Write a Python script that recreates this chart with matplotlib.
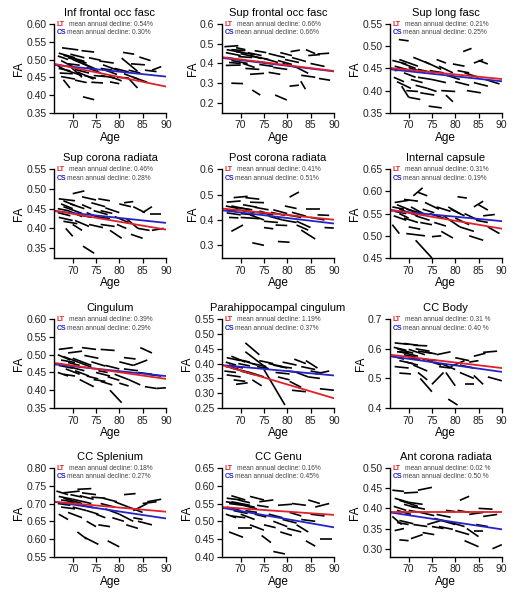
import numpy as np
import matplotlib
matplotlib.use('Agg')
import matplotlib.pyplot as plt

plt.rcParams['font.family'] = ['Liberation Sans', 'DejaVu Sans']

# Panel titles, y ranges and y ticks
titles = ['Inf frontal occ fasc', 'Sup frontal occ fasc', 'Sup long fasc',
          'Sup corona radiata', 'Post corona radiata', 'Internal capsule',
          'Cingulum', 'Parahippocampal cingulum', 'CC Body',
          'CC Splenium', 'CC Genu', 'Ant corona radiata']
ylims = [(0.35, 0.60), (0.15, 0.60), (0.35, 0.55),
         (0.325, 0.55), (0.25, 0.60), (0.45, 0.65),
         (0.35, 0.60), (0.25, 0.55), (0.40, 0.70),
         (0.55, 0.80), (0.40, 0.65), (0.28, 0.50)]
yticks = [[0.35, 0.40, 0.45, 0.50, 0.55, 0.60], [0.2, 0.3, 0.4, 0.5, 0.6], [0.35, 0.40, 0.45, 0.50, 0.55],
          [0.35, 0.40, 0.45, 0.50, 0.55], [0.3, 0.4, 0.5, 0.6], [0.45, 0.50, 0.55, 0.60, 0.65],
          [0.35, 0.40, 0.45, 0.50, 0.55, 0.60], [0.25, 0.30, 0.35, 0.40, 0.45, 0.50, 0.55], [0.4, 0.5, 0.6, 0.7],
          [0.55, 0.60, 0.65, 0.70, 0.75, 0.80], [0.40, 0.45, 0.50, 0.55, 0.60, 0.65], [0.30, 0.35, 0.40, 0.45, 0.50]]
ytick_fmt = ['%.2f', '%.1f', '%.2f', '%.2f', '%.1f', '%.2f', '%.2f', '%.2f', '%.1f', '%.2f', '%.2f', '%.2f']

# mean annual decline texts
lt_decline = ['0.54%', '0.66%', '0.21%', '0.46%', '0.41%', '0.31%',
              '0.39%', '1.19%', '0.31 %', '0.18%', '0.16%', '0.02 %']
cs_decline = ['0.30%', '0.66%', '0.25%', '0.28%', '0.51%', '0.19%',
              '0.29%', '0.37%', '0.40 %', '0.27%', '0.45%', '0.50 %']

# fitted lines: FA at age 66 and at age 90
lt_start = [0.488, 0.432, 0.451, 0.445, 0.445, 0.559, 0.477, 0.395, 0.580, 0.705, 0.540, 0.392]
lt_end = [0.424, 0.362, 0.426, 0.397, 0.401, 0.516, 0.432, 0.283, 0.535, 0.677, 0.518, 0.392]
cs_start = [0.485, 0.428, 0.448, 0.444, 0.438, 0.557, 0.473, 0.395, 0.575, 0.705, 0.538, 0.390]
cs_end = [0.452, 0.360, 0.421, 0.414, 0.386, 0.533, 0.440, 0.360, 0.522, 0.658, 0.483, 0.348]

# individual trajectories: (age0, age1, FA0, FA1)
seg_ifo = [
    (67.7, 71.2, 0.533, 0.527), (71.9, 74.6, 0.525, 0.521), (67.0, 70.5, 0.518, 0.505),
    (68.0, 72.5, 0.512, 0.495), (69.0, 73.0, 0.505, 0.490), (67.5, 70.0, 0.497, 0.480),
    (70.0, 74.0, 0.500, 0.478), (72.0, 75.5, 0.490, 0.470), (67.0, 69.5, 0.475, 0.468),
    (68.5, 72.0, 0.470, 0.455), (67.2, 70.0, 0.462, 0.460), (68.0, 69.4, 0.443, 0.420),
    (69.5, 72.0, 0.480, 0.450), (71.0, 74.5, 0.465, 0.445), (73.0, 76.0, 0.478, 0.462),
    (75.7, 78.8, 0.496, 0.490), (76.5, 80.0, 0.485, 0.468), (77.0, 79.5, 0.470, 0.458),
    (74.0, 76.5, 0.436, 0.434), (76.0, 79.0, 0.455, 0.448), (78.0, 80.5, 0.452, 0.440),
    (72.2, 74.6, 0.395, 0.387), (80.8, 83.2, 0.520, 0.515), (80.5, 83.9, 0.504, 0.467),
    (81.9, 83.9, 0.448, 0.420), (82.5, 85.5, 0.488, 0.485), (84.3, 86.7, 0.507, 0.497),
    (85.5, 88.0, 0.470, 0.466), (87.0, 89.0, 0.470, 0.480), (81.0, 84.0, 0.460, 0.445),
    (83.0, 86.0, 0.450, 0.436), (79.0, 82.0, 0.475, 0.465), (70.5, 73.0, 0.442, 0.435),
    (74.5, 77.0, 0.455, 0.452), (78.0, 80.0, 0.437, 0.432), (69.0, 71.5, 0.488, 0.484),
    (66.8, 68.5, 0.482, 0.470), (73.5, 76.0, 0.505, 0.498), (66.8, 69.0, 0.510, 0.500),
    (69.5, 72.5, 0.515, 0.505), (70.5, 73.5, 0.472, 0.462), (72.5, 75.0, 0.455, 0.447),
    (67.5, 70.5, 0.452, 0.445), (76.0, 78.5, 0.475, 0.470), (79.5, 82.0, 0.450, 0.448),
    (82.0, 84.5, 0.470, 0.462)]
seg_sfo = [
    (66.5, 69.5, 0.485, 0.490), (68.0, 71.0, 0.470, 0.465), (66.8, 70.0, 0.455, 0.440),
    (69.0, 73.0, 0.460, 0.445), (70.0, 74.5, 0.450, 0.425), (67.0, 69.5, 0.430, 0.420),
    (68.0, 71.5, 0.415, 0.400), (66.8, 70.0, 0.390, 0.392), (70.5, 73.0, 0.400, 0.380),
    (72.0, 76.0, 0.440, 0.420), (73.0, 75.5, 0.465, 0.455), (71.0, 74.0, 0.375, 0.370),
    (74.0, 77.0, 0.395, 0.385), (75.0, 78.0, 0.425, 0.405), (76.0, 79.5, 0.450, 0.430),
    (77.0, 80.0, 0.380, 0.370), (68.0, 70.5, 0.300, 0.298), (72.5, 74.2, 0.265, 0.240),
    (77.4, 79.9, 0.240, 0.215), (78.0, 81.0, 0.415, 0.395), (79.0, 82.0, 0.400, 0.380),
    (80.7, 82.7, 0.460, 0.468), (81.0, 84.0, 0.430, 0.410), (82.0, 84.5, 0.380, 0.350),
    (82.9, 83.9, 0.310, 0.270), (80.5, 82.5, 0.285, 0.290), (84.0, 86.0, 0.470, 0.450),
    (84.5, 87.0, 0.440, 0.445), (86.5, 89.0, 0.448, 0.452), (85.0, 88.0, 0.400, 0.385),
    (86.8, 89.2, 0.324, 0.315), (76.0, 78.5, 0.355, 0.345), (72.0, 75.0, 0.345, 0.350),
    (83.0, 86.0, 0.340, 0.330), (69.0, 71.0, 0.480, 0.470), (78.5, 81.0, 0.455, 0.440),
    (67.0, 70.5, 0.470, 0.455), (69.5, 72.5, 0.435, 0.430), (67.5, 70.0, 0.405, 0.400),
    (71.5, 74.5, 0.455, 0.440), (73.5, 76.5, 0.410, 0.400), (79.5, 82.5, 0.420, 0.405)]
seg_slf = [
    (67.9, 70.0, 0.515, 0.512), (66.5, 69.5, 0.468, 0.460), (67.0, 70.5, 0.455, 0.445),
    (68.0, 72.0, 0.470, 0.455), (69.0, 71.5, 0.440, 0.430), (66.8, 69.0, 0.430, 0.420),
    (67.5, 70.5, 0.420, 0.405), (68.5, 70.0, 0.410, 0.385), (70.0, 73.5, 0.452, 0.440),
    (71.0, 74.5, 0.475, 0.460), (72.0, 75.0, 0.430, 0.425), (71.5, 74.0, 0.412, 0.405),
    (73.5, 77.0, 0.465, 0.448), (74.5, 77.5, 0.445, 0.440), (75.0, 78.0, 0.425, 0.418),
    (74.3, 77.1, 0.365, 0.361), (76.5, 79.5, 0.455, 0.440), (77.0, 80.0, 0.400, 0.398),
    (78.0, 79.5, 0.390, 0.375), (78.0, 81.0, 0.435, 0.425), (79.5, 82.0, 0.460, 0.455),
    (80.0, 83.0, 0.420, 0.412), (81.7, 83.5, 0.488, 0.495), (82.0, 85.0, 0.440, 0.430),
    (82.5, 85.5, 0.400, 0.395), (84.0, 86.0, 0.462, 0.470), (85.0, 87.0, 0.468, 0.460),
    (84.0, 87.0, 0.418, 0.410), (86.5, 89.5, 0.425, 0.415), (72.5, 75.5, 0.395, 0.390),
    (69.5, 72.0, 0.400, 0.398), (76.0, 78.0, 0.470, 0.462), (80.5, 83.0, 0.445, 0.440),
    (70.0, 72.5, 0.385, 0.380), (67.0, 69.5, 0.445, 0.448), (68.5, 71.5, 0.462, 0.450),
    (70.5, 73.0, 0.425, 0.418), (72.0, 74.5, 0.448, 0.442), (74.0, 76.0, 0.405, 0.398)]
seg_scr = [
    (67.0, 70.5, 0.475, 0.470), (70.0, 72.5, 0.488, 0.495), (72.0, 75.0, 0.480, 0.472),
    (67.5, 70.0, 0.462, 0.450), (68.0, 72.0, 0.455, 0.438), (66.8, 69.5, 0.440, 0.432),
    (69.0, 72.0, 0.445, 0.430), (67.0, 70.0, 0.428, 0.420), (68.5, 70.0, 0.400, 0.380),
    (70.5, 73.5, 0.420, 0.405), (72.0, 74.0, 0.460, 0.450), (73.0, 76.0, 0.440, 0.425),
    (72.2, 74.6, 0.355, 0.337), (74.0, 77.0, 0.465, 0.455), (75.0, 78.0, 0.430, 0.425),
    (76.0, 79.0, 0.410, 0.405), (77.0, 80.0, 0.452, 0.440), (78.0, 80.5, 0.395, 0.375),
    (79.0, 82.0, 0.430, 0.415), (80.0, 82.5, 0.462, 0.455), (81.0, 83.0, 0.465, 0.468),
    (81.5, 84.0, 0.425, 0.400), (83.0, 85.5, 0.455, 0.440), (84.0, 86.5, 0.400, 0.395),
    (85.0, 87.0, 0.440, 0.455), (86.5, 89.0, 0.437, 0.437), (87.0, 89.5, 0.395, 0.400),
    (82.5, 85.0, 0.385, 0.375), (75.5, 78.0, 0.475, 0.470), (70.0, 72.0, 0.410, 0.395),
    (73.5, 76.5, 0.410, 0.402), (68.0, 70.5, 0.470, 0.458), (76.0, 78.5, 0.445, 0.438),
    (79.5, 81.5, 0.410, 0.400), (66.8, 69.0, 0.450, 0.445), (69.5, 72.5, 0.462, 0.450),
    (68.0, 71.0, 0.418, 0.412), (71.0, 74.0, 0.435, 0.428), (74.5, 77.5, 0.445, 0.435)]
seg_pcr = [
    (67.0, 70.0, 0.470, 0.475), (68.5, 71.5, 0.488, 0.493), (71.0, 74.0, 0.488, 0.482),
    (72.0, 75.0, 0.470, 0.468), (66.8, 69.5, 0.455, 0.445), (68.0, 72.0, 0.455, 0.440),
    (69.0, 73.0, 0.440, 0.430), (67.0, 70.0, 0.428, 0.420), (68.0, 70.5, 0.355, 0.380),
    (70.0, 74.0, 0.410, 0.405), (72.0, 75.0, 0.420, 0.400), (73.0, 76.0, 0.450, 0.440),
    (72.5, 75.0, 0.310, 0.300), (74.0, 77.0, 0.435, 0.420), (75.0, 77.0, 0.370, 0.365),
    (76.0, 79.0, 0.415, 0.400), (77.0, 80.0, 0.440, 0.425), (78.0, 80.5, 0.315, 0.312),
    (79.0, 82.0, 0.400, 0.390), (79.5, 82.0, 0.455, 0.445), (80.5, 82.5, 0.490, 0.510),
    (81.0, 84.0, 0.430, 0.415), (82.0, 85.0, 0.395, 0.370), (83.0, 86.0, 0.360, 0.325),
    (84.0, 87.0, 0.445, 0.445), (85.0, 88.0, 0.410, 0.400), (86.5, 89.0, 0.420, 0.418),
    (88.0, 90.0, 0.370, 0.368), (82.0, 84.5, 0.380, 0.360), (70.5, 73.5, 0.460, 0.450),
    (75.0, 78.0, 0.395, 0.390), (67.5, 69.5, 0.410, 0.408), (80.0, 83.0, 0.420, 0.410),
    (77.5, 80.0, 0.380, 0.378), (66.8, 69.0, 0.440, 0.435), (69.5, 72.5, 0.448, 0.440),
    (70.0, 73.0, 0.425, 0.420), (73.5, 76.5, 0.430, 0.422), (76.5, 79.5, 0.430, 0.418)]
seg_ic = [
    (67.0, 70.0, 0.575, 0.580), (69.0, 72.0, 0.582, 0.578), (71.0, 73.0, 0.590, 0.608),
    (72.0, 74.0, 0.598, 0.590), (66.5, 69.0, 0.565, 0.560), (67.5, 71.0, 0.570, 0.555),
    (68.0, 72.0, 0.560, 0.545), (66.8, 69.5, 0.545, 0.535), (66.5, 68.0, 0.525, 0.505),
    (69.0, 72.0, 0.540, 0.530), (70.5, 73.5, 0.565, 0.548), (69.5, 73.5, 0.505, 0.500),
    (71.5, 75.0, 0.490, 0.450), (73.5, 76.5, 0.575, 0.560), (74.5, 77.5, 0.550, 0.540),
    (75.0, 77.0, 0.498, 0.500), (76.0, 79.0, 0.565, 0.555), (77.0, 79.5, 0.510, 0.495),
    (77.5, 81.0, 0.545, 0.520), (78.5, 81.0, 0.565, 0.550), (80.0, 83.0, 0.540, 0.525),
    (80.5, 82.5, 0.588, 0.585), (81.0, 84.0, 0.520, 0.510), (82.0, 85.0, 0.550, 0.535),
    (83.0, 86.0, 0.500, 0.490), (84.0, 86.0, 0.565, 0.578), (85.0, 87.0, 0.570, 0.558),
    (86.0, 88.5, 0.545, 0.548), (87.0, 89.5, 0.520, 0.505), (72.5, 75.0, 0.530, 0.525),
    (70.0, 72.5, 0.520, 0.515), (75.5, 78.0, 0.530, 0.522), (79.0, 82.0, 0.560, 0.545),
    (84.5, 87.0, 0.535, 0.530), (68.0, 70.0, 0.550, 0.540), (67.0, 69.5, 0.555, 0.550),
    (69.5, 72.5, 0.560, 0.552), (71.5, 74.5, 0.545, 0.535), (73.0, 75.5, 0.560, 0.552)]
seg_cg = [
    (67.0, 70.0, 0.515, 0.520), (69.0, 72.0, 0.505, 0.510), (72.0, 75.0, 0.520, 0.515),
    (76.0, 79.0, 0.515, 0.512), (66.8, 69.5, 0.500, 0.485), (68.0, 72.0, 0.495, 0.475),
    (70.0, 74.0, 0.490, 0.470), (67.0, 70.0, 0.470, 0.462), (68.5, 71.5, 0.460, 0.445),
    (66.8, 69.0, 0.450, 0.440), (70.5, 73.5, 0.455, 0.440), (71.5, 74.5, 0.430, 0.410),
    (72.0, 74.0, 0.475, 0.465), (74.0, 77.0, 0.480, 0.468), (75.0, 78.0, 0.450, 0.440),
    (76.0, 78.5, 0.425, 0.415), (77.0, 80.0, 0.470, 0.460), (78.0, 80.5, 0.400, 0.365),
    (79.0, 82.0, 0.445, 0.430), (80.0, 83.0, 0.480, 0.470), (81.0, 84.0, 0.460, 0.455),
    (82.0, 84.5, 0.430, 0.415), (83.0, 86.0, 0.470, 0.485), (84.5, 87.0, 0.520, 0.505),
    (84.0, 87.0, 0.450, 0.445), (85.5, 88.0, 0.410, 0.405), (88.0, 90.0, 0.405, 0.407),
    (86.0, 89.0, 0.445, 0.440), (73.0, 75.5, 0.440, 0.432), (69.0, 71.5, 0.478, 0.470),
    (77.5, 80.0, 0.438, 0.428), (81.0, 83.5, 0.492, 0.488), (75.5, 77.5, 0.455, 0.450),
    (80.0, 82.0, 0.420, 0.412), (67.5, 70.5, 0.485, 0.478), (69.5, 72.5, 0.465, 0.455),
    (68.0, 70.5, 0.445, 0.440), (72.5, 75.5, 0.498, 0.490), (74.5, 77.0, 0.430, 0.425)]
seg_phc = [
    (67.0, 70.0, 0.420, 0.410), (68.0, 71.0, 0.425, 0.405), (66.8, 69.0, 0.405, 0.395),
    (67.5, 70.5, 0.395, 0.385), (68.0, 72.0, 0.385, 0.370), (66.5, 69.0, 0.375, 0.370),
    (67.0, 70.0, 0.362, 0.355), (68.5, 71.0, 0.345, 0.340), (69.0, 71.5, 0.330, 0.335),
    (70.5, 73.5, 0.410, 0.395), (71.0, 74.0, 0.470, 0.430), (71.0, 76.0, 0.440, 0.380),
    (72.0, 75.0, 0.370, 0.355), (72.5, 74.5, 0.345, 0.325), (74.0, 77.0, 0.410, 0.400),
    (75.0, 79.5, 0.380, 0.260), (76.0, 79.0, 0.400, 0.390), (77.0, 80.0, 0.395, 0.385),
    (77.5, 80.5, 0.370, 0.365), (79.0, 82.0, 0.405, 0.395), (80.0, 82.5, 0.375, 0.370),
    (80.5, 83.0, 0.340, 0.320), (81.0, 84.0, 0.310, 0.305), (81.5, 84.0, 0.415, 0.400),
    (83.0, 86.0, 0.390, 0.380), (84.0, 86.5, 0.410, 0.385), (84.5, 87.0, 0.355, 0.350),
    (86.0, 89.0, 0.365, 0.375), (87.0, 90.0, 0.315, 0.310), (82.0, 84.5, 0.370, 0.355),
    (73.5, 76.0, 0.390, 0.383), (69.5, 72.0, 0.400, 0.392), (78.0, 80.5, 0.355, 0.345),
    (85.0, 87.5, 0.375, 0.368), (66.8, 69.5, 0.390, 0.382), (69.0, 72.0, 0.415, 0.405),
    (70.0, 73.0, 0.375, 0.362), (72.5, 75.5, 0.400, 0.390), (78.5, 81.0, 0.390, 0.385)]
seg_ccb = [
    (67.0, 70.0, 0.620, 0.615), (69.0, 72.0, 0.618, 0.612), (71.0, 74.0, 0.612, 0.610),
    (66.8, 69.5, 0.605, 0.595), (67.5, 71.0, 0.600, 0.585), (68.0, 72.0, 0.590, 0.575),
    (70.0, 73.5, 0.598, 0.580), (72.0, 75.0, 0.592, 0.585), (66.5, 69.0, 0.575, 0.565),
    (68.0, 71.0, 0.560, 0.550), (67.0, 70.0, 0.540, 0.535), (68.0, 70.5, 0.518, 0.515),
    (71.0, 74.0, 0.545, 0.525), (72.0, 74.0, 0.520, 0.495), (72.5, 75.0, 0.500, 0.455),
    (74.0, 77.0, 0.560, 0.545), (75.0, 77.5, 0.480, 0.520), (76.0, 79.0, 0.580, 0.590),
    (77.0, 80.0, 0.550, 0.530), (78.0, 80.0, 0.520, 0.475), (78.5, 80.5, 0.430, 0.410),
    (79.0, 82.0, 0.540, 0.560), (80.0, 83.0, 0.570, 0.560), (81.0, 84.0, 0.520, 0.500),
    (82.0, 84.0, 0.480, 0.480), (83.0, 85.0, 0.555, 0.560), (84.0, 86.5, 0.575, 0.585),
    (86.0, 89.0, 0.588, 0.592), (84.0, 86.0, 0.510, 0.480), (87.0, 90.0, 0.505, 0.492),
    (81.0, 84.0, 0.545, 0.535), (73.0, 76.0, 0.565, 0.560), (69.0, 71.5, 0.580, 0.572),
    (76.5, 79.0, 0.540, 0.535), (67.5, 70.0, 0.590, 0.588), (70.0, 72.5, 0.570, 0.565),
    (71.5, 74.5, 0.600, 0.592), (73.5, 76.0, 0.590, 0.582), (69.5, 72.0, 0.555, 0.545)]
seg_ccs = [
    (66.5, 69.0, 0.735, 0.725), (68.0, 71.5, 0.730, 0.735), (71.0, 74.0, 0.740, 0.742),
    (72.0, 75.0, 0.730, 0.725), (67.0, 70.0, 0.720, 0.712), (68.0, 72.0, 0.715, 0.700),
    (70.0, 74.0, 0.712, 0.700), (66.8, 69.5, 0.700, 0.695), (67.5, 70.5, 0.690, 0.685),
    (67.0, 69.0, 0.670, 0.655), (69.0, 72.0, 0.675, 0.660), (71.0, 73.0, 0.620, 0.600),
    (73.0, 75.0, 0.650, 0.635), (72.5, 75.5, 0.605, 0.585), (74.0, 77.0, 0.718, 0.715),
    (75.0, 77.0, 0.670, 0.660), (76.0, 79.0, 0.700, 0.690), (77.0, 80.0, 0.685, 0.670),
    (77.5, 80.0, 0.595, 0.578), (79.0, 82.0, 0.705, 0.690), (80.0, 83.0, 0.670, 0.650),
    (81.0, 83.5, 0.725, 0.728), (81.5, 84.0, 0.640, 0.630), (82.0, 85.0, 0.690, 0.675),
    (83.0, 86.0, 0.680, 0.700), (84.0, 87.0, 0.650, 0.640), (85.0, 88.0, 0.700, 0.705),
    (86.0, 89.0, 0.705, 0.712), (73.0, 75.5, 0.680, 0.670), (75.5, 78.0, 0.640, 0.635),
    (78.5, 81.0, 0.660, 0.650), (69.5, 72.0, 0.725, 0.718), (83.0, 85.0, 0.660, 0.655),
    (70.0, 73.0, 0.690, 0.680), (67.5, 70.0, 0.710, 0.705), (69.0, 71.5, 0.705, 0.698),
    (71.5, 74.5, 0.722, 0.712), (72.0, 74.5, 0.695, 0.688), (76.5, 79.5, 0.715, 0.705)]
seg_ccg = [
    (67.0, 70.0, 0.565, 0.560), (68.0, 71.0, 0.572, 0.560), (72.0, 75.0, 0.570, 0.560),
    (66.8, 69.5, 0.555, 0.550), (68.0, 72.0, 0.555, 0.545), (69.0, 73.0, 0.550, 0.540),
    (67.0, 70.0, 0.540, 0.530), (66.8, 69.0, 0.520, 0.510), (68.0, 71.0, 0.515, 0.510),
    (70.0, 73.0, 0.520, 0.505), (69.5, 72.5, 0.480, 0.480), (67.5, 70.5, 0.470, 0.455),
    (72.0, 75.0, 0.490, 0.475), (73.5, 76.0, 0.545, 0.540), (74.0, 77.0, 0.555, 0.560),
    (74.5, 76.5, 0.460, 0.440), (76.0, 79.0, 0.520, 0.510), (77.0, 80.0, 0.500, 0.485),
    (77.0, 79.5, 0.415, 0.408), (78.0, 81.0, 0.545, 0.548), (79.0, 82.0, 0.505, 0.495),
    (80.0, 83.0, 0.480, 0.470), (81.0, 84.0, 0.550, 0.545), (82.0, 84.5, 0.490, 0.470),
    (83.0, 86.0, 0.505, 0.500), (84.0, 86.0, 0.445, 0.430), (84.5, 87.0, 0.560, 0.550),
    (86.0, 89.0, 0.540, 0.550), (87.0, 89.5, 0.450, 0.450), (85.0, 88.0, 0.520, 0.515),
    (75.0, 77.5, 0.490, 0.482), (71.0, 73.5, 0.530, 0.525), (80.5, 83.0, 0.525, 0.515),
    (78.5, 81.0, 0.470, 0.460), (67.5, 70.5, 0.550, 0.545), (69.5, 72.0, 0.560, 0.552),
    (70.5, 73.5, 0.545, 0.535), (68.5, 71.5, 0.530, 0.522), (73.0, 75.5, 0.520, 0.512)]
seg_acr = [
    (66.5, 69.0, 0.445, 0.442), (69.0, 72.0, 0.438, 0.440), (72.0, 75.0, 0.445, 0.452),
    (67.0, 70.0, 0.425, 0.415), (68.0, 72.0, 0.420, 0.405), (70.0, 73.0, 0.415, 0.410),
    (66.8, 69.5, 0.405, 0.395), (67.5, 70.5, 0.395, 0.385), (66.5, 68.5, 0.380, 0.360),
    (68.0, 71.0, 0.370, 0.362), (67.0, 69.0, 0.345, 0.350), (68.0, 70.0, 0.322, 0.320),
    (70.5, 73.0, 0.325, 0.335), (71.0, 74.0, 0.360, 0.355), (72.5, 75.5, 0.390, 0.382),
    (74.0, 77.0, 0.360, 0.370), (75.0, 77.5, 0.355, 0.350), (76.0, 79.0, 0.385, 0.378),
    (77.0, 80.0, 0.370, 0.360), (78.0, 80.0, 0.395, 0.392), (79.0, 82.0, 0.365, 0.355),
    (80.0, 83.0, 0.345, 0.335), (81.0, 83.0, 0.420, 0.430), (80.5, 83.0, 0.395, 0.390),
    (82.0, 85.0, 0.320, 0.305), (83.0, 86.0, 0.385, 0.390), (84.0, 86.0, 0.345, 0.345),
    (85.0, 88.0, 0.400, 0.398), (86.0, 89.0, 0.380, 0.385), (88.0, 90.0, 0.300, 0.310),
    (73.0, 75.5, 0.340, 0.335), (75.5, 78.0, 0.375, 0.368), (82.5, 85.0, 0.350, 0.330),
    (70.0, 72.5, 0.395, 0.390), (84.5, 87.0, 0.360, 0.355), (69.0, 71.5, 0.410, 0.402),
    (70.5, 73.5, 0.405, 0.398), (67.5, 70.0, 0.365, 0.360), (76.5, 79.5, 0.355, 0.348)]

segments = [seg_ifo, seg_sfo, seg_slf, seg_scr, seg_pcr, seg_ic,
            seg_cg, seg_phc, seg_ccb, seg_ccs, seg_ccg, seg_acr]
age_range = [66, 90]

fig = plt.figure(figsize=(5.2, 6.0), dpi=100)

lefts = [0.104, 0.427, 0.750]
bottoms = [0.812, 0.570, 0.320, 0.072]
w, h = 0.215, 0.148

for i in range(12):
    r, c = divmod(i, 3)
    ax = fig.add_axes([lefts[c], bottoms[r], w, h])
    for a0, a1, f0, f1 in segments[i]:
        ax.plot([a0, a1], [f0, f1], color='black', lw=1.2, solid_capstyle='butt')
    ax.plot(age_range, [cs_start[i], cs_end[i]], color='#2424c8', lw=1.3)
    ax.plot(age_range, [lt_start[i], lt_end[i]], color='#e0202a', lw=1.3)

    ax.set_xlim(66, 90)
    ax.set_ylim(*ylims[i])
    ax.set_xticks([70, 75, 80, 85, 90])
    ax.set_yticks(yticks[i])
    ax.set_yticklabels([ytick_fmt[i] % v for v in yticks[i]])
    for s in ['top', 'right']:
        ax.spines[s].set_visible(False)
    for s in ['left', 'bottom']:
        ax.spines[s].set_linewidth(1.0)
    ax.tick_params(direction='out', length=3.5, width=0.9, labelsize=7.5, pad=2,
                   labelcolor='#222222')
    ax.set_title(titles[i], fontsize=8, pad=6)
    ax.set_xlabel('Age', fontsize=8.5, labelpad=1)
    ax.set_ylabel('FA', fontsize=8.5, labelpad=1)

    ax.text(0.025, 1.0, 'LT', transform=ax.transAxes, color='#e0202a', fontsize=5,
            fontweight='bold', va='center', ha='left', clip_on=False)
    ax.text(0.13, 1.0, 'mean annual decline: ' + lt_decline[i], transform=ax.transAxes,
            color='#444444', fontsize=4.8, va='center', ha='left', clip_on=False)
    ax.text(0.025, 0.9, 'CS', transform=ax.transAxes, color='#2424c8', fontsize=5,
            fontweight='bold', va='center', ha='left')
    ax.text(0.115, 0.9, 'mean annual decline: ' + cs_decline[i], transform=ax.transAxes,
            color='#444444', fontsize=4.8, va='center', ha='left')

fig.savefig('out.png', dpi=100)
